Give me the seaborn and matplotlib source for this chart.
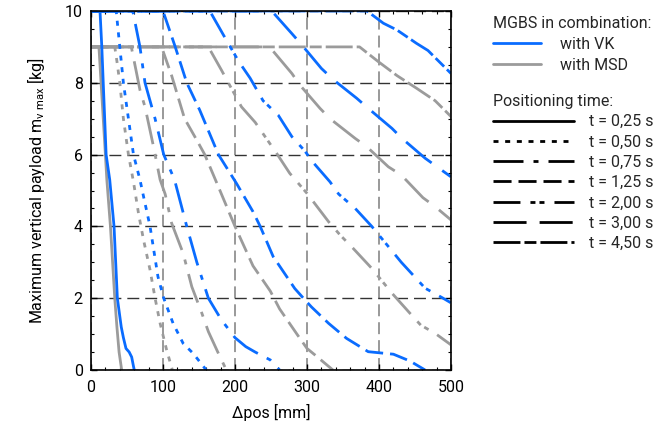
import numpy as np
import pandas as pd
import matplotlib
matplotlib.use("Agg")
import matplotlib.pyplot as plt
from matplotlib.lines import Line2D
from matplotlib.ticker import MultipleLocator
import seaborn as sns

sns.set_theme(style="ticks")
plt.rcParams['font.family'] = ['Roboto', 'DejaVu Sans']
plt.rcParams['mathtext.fontset'] = 'custom'
plt.rcParams['mathtext.rm'] = 'Roboto'
plt.rcParams['lines.scale_dashes'] = False   # dash lengths in points

# ---------------- data (Δpos [mm], payload [kg]) ----------------
times = ['0,25', '0,50', '0,75', '1,25', '2,00', '3,00', '4,50']

# MGBS with VK (cap 10 kg)
vk_025_x = [0, 12.5, 15, 17, 21, 26, 32, 36.6, 42, 45, 48.6, 53, 56.5, 60]
vk_025_y = [10, 10, 9, 8, 6, 5.3, 4, 2, 1.2, 0.9, 0.6, 0.5, 0.36, 0]
vk_050_x = [0, 35, 40, 45, 52, 59, 68, 73, 82, 93, 101, 114, 128, 142, 160]
vk_050_y = [10, 10, 9, 8, 7, 6, 5.3, 4.83, 4, 2.6, 2, 1.3, 0.74, 0.46, 0]
vk_075_x = [0, 58, 68, 75, 89, 101, 116, 133, 147, 163, 181, 200, 215, 228, 249, 262]
vk_075_y = [10, 10, 9, 8, 7, 6, 5.3, 4, 3, 2, 1.4, 0.9, 0.65, 0.5, 0.28, 0]
vk_125_x = [0, 100, 117, 133, 151, 177, 202, 225, 235, 253, 283, 295, 306, 330, 355, 385, 420, 443, 464]
vk_125_y = [10, 10, 9, 8, 7.24, 6, 5.2, 4.41, 4, 3.16, 2.27, 2, 1.76, 1.3, 0.88, 0.51, 0.44, 0.25, 0]
vk_200_x = [0, 165, 184, 205, 221, 239, 260, 279, 297, 309, 332, 344, 367, 390, 431, 464, 489, 500]
vk_200_y = [10, 10, 9.33, 8.6, 8.13, 7.5, 7.1, 6.5, 6.1, 5.77, 5.24, 4.9, 4.5, 4.0, 3.0, 2.28, 2.0, 1.87]
vk_300_x = [0, 251, 279, 293, 320, 337, 369, 385, 418, 432, 464, 500]
vk_300_y = [10, 10, 9.37, 9.05, 8.4, 8.08, 7.57, 7.29, 6.73, 6.45, 5.9, 5.38]
vk_450_x = [0, 383, 388, 406, 425, 452, 468, 500]
vk_450_y = [10, 10, 9.93, 9.66, 9.47, 9.1, 8.9, 8.26]

# MGBS with MSD (cap 9 kg)
msd_025_x = [0, 11, 14, 17, 20, 22, 27, 30, 33, 36, 39, 42.6]
msd_025_y = [9, 9, 8, 7, 6, 5.3, 4, 3, 2, 1.2, 0.5, 0]
msd_050_x = [0, 33, 36, 40, 45, 52, 59, 66, 73, 82, 89, 96, 105, 113]
msd_050_y = [9, 9, 8.6, 8, 7, 6, 5.24, 4.36, 3.62, 2.79, 2, 1.3, 0.56, 0]
msd_075_x = [0, 56, 68, 75, 86, 96, 103, 112, 128, 140, 154, 163, 177, 188]
msd_075_y = [9, 9, 7.8, 7.33, 6.3, 5.3, 4.9, 4.09, 3.25, 2.32, 1.58, 1.07, 0.46, 0]
msd_125_x = [0, 98, 112, 130, 147, 158, 177, 200, 225, 249, 262, 286, 300, 311, 336]
msd_125_y = [9, 9, 8.2, 7.0, 6.4, 6.0, 5.1, 4.0, 2.9, 2.2, 1.7, 1.0, 0.6, 0.42, 0]
msd_200_x = [0, 163, 181, 209, 228, 258, 276, 300, 330, 346, 364, 390, 418, 443, 458, 478, 500]
msd_200_y = [9, 9, 8.36, 7.33, 6.9, 6.03, 5.48, 4.92, 4.13, 3.76, 3.39, 2.83, 2.14, 1.58, 1.25, 1.02, 0.7]
msd_300_x = [0, 248, 279, 290, 318, 332, 367, 383, 413, 431, 461, 478, 500]
msd_300_y = [9, 9, 8.26, 7.94, 7.29, 7.0, 6.45, 6.22, 5.66, 5.43, 4.8, 4.55, 4.18]
msd_450_x = [0, 373, 399, 425, 452, 478, 500]
msd_450_y = [9, 9, 8.59, 8.2, 7.85, 7.5, 7.06]

vk_curves = [(vk_025_x, vk_025_y), (vk_050_x, vk_050_y), (vk_075_x, vk_075_y),
             (vk_125_x, vk_125_y), (vk_200_x, vk_200_y), (vk_300_x, vk_300_y),
             (vk_450_x, vk_450_y)]
msd_curves = [(msd_025_x, msd_025_y), (msd_050_x, msd_050_y), (msd_075_x, msd_075_y),
              (msd_125_x, msd_125_y), (msd_200_x, msd_200_y), (msd_300_x, msd_300_y),
              (msd_450_x, msd_450_y)]

rows = []
for combo, curves in [('with MSD', msd_curves), ('with VK', vk_curves)]:
    for t, (xs, ys) in zip(times, curves):
        for x, y in zip(xs, ys):
            rows.append({'pos': x, 'load': y, 'combo': combo, 't': t})
df = pd.DataFrame(rows)

# ---------------- styles ----------------
palette = {'with VK': '#0a6cff', 'with MSD': '#9b9b9b'}
dash_map = {
    '0,25': '',
    '0,50': (3.6, 4.8),
    '0,75': (21.6, 7.2, 3.6, 7.2),
    '1,25': (13, 5),
    '2,00': (19.4, 7.2, 3.6, 2.9, 3.6, 7.2),
    '3,00': (23.8, 9.4),
    '4,50': (19.4, 2.9, 8.6, 2.9),
}

fig, ax = plt.subplots(figsize=(6.6, 4.29), dpi=100)
ax.set_position([91 / 660, 59 / 429, 360 / 660, 359 / 429])

sns.lineplot(data=df, x='pos', y='load', hue='combo', style='t',
             hue_order=['with MSD', 'with VK'], style_order=times,
             palette=palette, dashes=dash_map, estimator=None, sort=False,
             linewidth=2.0, legend=False, ax=ax)

ax.set_xlim(0, 500)
ax.set_ylim(0, 10)
ax.xaxis.set_major_locator(MultipleLocator(100))
ax.xaxis.set_minor_locator(MultipleLocator(20))
ax.yaxis.set_major_locator(MultipleLocator(2))
ax.yaxis.set_minor_locator(MultipleLocator(0.5))

ax.yaxis.grid(True, which='major', color='#333333', linestyle=(0, (8.6, 4.3)), linewidth=1.0)
ax.xaxis.grid(True, which='major', color='#888888', linestyle=(0, (8.6, 4.3)), linewidth=1.2)
ax.set_axisbelow(True)

ax.tick_params(which='both', direction='in', top=True, right=True, bottom=True, left=True,
               colors='black', labelsize=11.5)
ax.tick_params(which='major', length=4.5, width=1.0)
ax.tick_params(which='minor', length=2.5, width=0.8)
ax.tick_params(axis='x', pad=7)
ax.tick_params(axis='y', pad=6)
for s in ax.spines.values():
    s.set_color('black')
    s.set_linewidth(1.2)

ax.set_xlabel('Δpos [mm]', fontsize=11.5, color='black', labelpad=7)
ax.set_ylabel(r'Maximum vertical payload m$_{\mathregular{v\ max}}$ [kg]',
              fontsize=11.5, color='black', labelpad=13)

# ---------------- legends ----------------
combo_handles = [Line2D([], [], color=palette['with VK'], lw=2.0),
                 Line2D([], [], color=palette['with MSD'], lw=2.0)]
leg1 = fig.legend(combo_handles, ['with VK', 'with MSD'], title='MGBS in combination:',
                  loc='upper left', bbox_to_anchor=(493 / 660, 1 - 16 / 429),
                  frameon=False, alignment='left', fontsize=11.5, title_fontsize=11.5,
                  handlelength=3.0, handletextpad=1.2, borderpad=0, borderaxespad=0,
                  labelspacing=0.37)

time_handles = []
for t in times:
    if dash_map[t] == '':
        time_handles.append(Line2D([], [], color='black', lw=2.0))
    else:
        time_handles.append(Line2D([], [], color='black', lw=2.0, dashes=dash_map[t]))
leg2 = fig.legend(time_handles, ['t = ' + t + ' s' for t in times], title='Positioning time:',
                  loc='upper left', bbox_to_anchor=(493 / 660, 1 - 94 / 429),
                  frameon=False, alignment='left', fontsize=11.5, title_fontsize=11.5,
                  handlelength=5.1, handletextpad=0.9, borderpad=0, borderaxespad=0,
                  labelspacing=0.33)

fig.savefig('out.png', dpi=100)
